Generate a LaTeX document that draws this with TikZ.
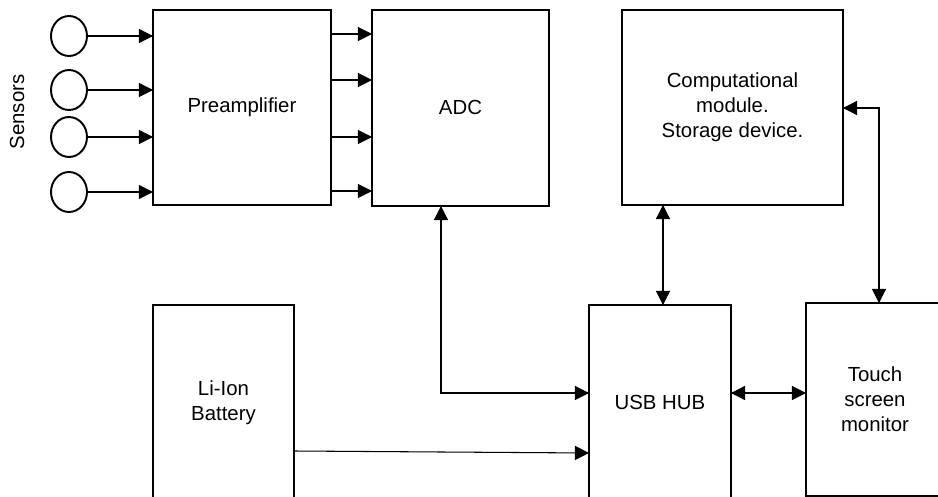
\documentclass[tikz,border=0pt]{standalone}
\usepackage{fontspec}
\setmainfont{Liberation Sans}
\usetikzlibrary{arrows.meta, shapes.geometric}
\tikzset{blk/.style={draw, line width=1.1pt, anchor=north west, inner sep=0pt, outer sep=0pt, align=center}}
\tikzset{sens/.style={draw, ellipse, line width=1.1pt, minimum width=0.72cm, minimum height=0.8cm, inner sep=0pt}}
\tikzset{arr/.style={-{Triangle[length=8pt,width=8pt]}, line width=0.6pt}}
\tikzset{dbl/.style={{Triangle[length=8pt,width=8pt]}-{Triangle[length=8pt,width=8pt]}, line width=0.6pt}}

\begin{document}
\begin{tikzpicture}[x=0.02cm, y=-0.02cm, font=\fontsize{11.6}{14.2}\selectfont]
\useasboundingbox (0,0) rectangle (938,497);
\clip (0,0) rectangle (938,497);
% Sensors
\node[sens] (s1) at (69,36) {};
\node[sens] (s2) at (69,90) {};
\node[sens] (s3) at (69,137) {};
\node[sens] (s4) at (69,192) {};
\node[rotate=90] (lbl) at (17,112) {Sensors};
% Blocks
\node[blk, minimum width=3.56cm, minimum height=3.9cm] (pre) at (153,10) {Preamplifier};
\node[blk, minimum width=3.54cm, minimum height=3.92cm] (adc) at (372,10) {ADC};
\node[blk, minimum width=4.42cm, minimum height=3.9cm] (comp) at (622,10) {Computational\\module.\\Storage device.};
\node[blk, minimum width=2.82cm, minimum height=3.92cm] (batt) at (153,305) {Li-Ion\\Battery};
\node[blk, minimum width=2.84cm, minimum height=3.92cm] (usb) at (589,305) {USB HUB};
\node[blk, minimum width=2.76cm, minimum height=3.86cm] (touch) at (806,303) {Touch\\screen\\monitor};
% Sensors into preamplifier
\draw[arr] (s1) -- (s1 -| pre.west);
\draw[arr] (s2) -- (s2 -| pre.west);
\draw[arr] (s3) -- (s3 -| pre.west);
\draw[arr] (s4) -- (s4 -| pre.west);
% Preamplifier to ADC
\draw[arr] (pre.east |- 0,34) -- (adc.west |- 0,34);
\draw[arr] (pre.east |- 0,80) -- (adc.west |- 0,80);
\draw[arr] (pre.east |- 0,137) -- (adc.west |- 0,137);
\draw[arr] (pre.east |- 0,191) -- (adc.west |- 0,191);
% USB links
\draw[dbl] (adc.south -| 441,0) |- (usb.west |- 0,393);
\draw[arr] (batt.east |- 0,451) -- (usb.west |- 0,453);
\draw[dbl] (comp.south -| 663,0) -- (usb.north -| 663,0);
\draw[dbl] (usb.east |- 0,393) -- (touch.west |- 0,393);
% Computational module to monitor
\draw[dbl] (comp.east |- 0,108) -| (touch.north -| 879,0);
\end{tikzpicture}
\end{document}
